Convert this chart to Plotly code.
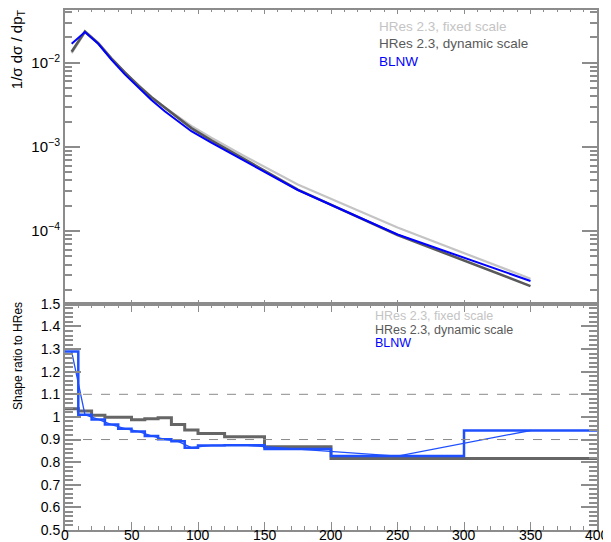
import plotly.graph_objects as go

# ---------------- data ----------------
pt_centers = [5, 15, 25, 35, 45, 55, 65, 75, 85, 95, 110, 135, 175, 250, 350]
bin_edges = [0, 10, 20, 30, 40, 50, 60, 70, 80, 90, 100, 120, 150, 200, 300, 400]

hres_fixed = [0.01303, 0.02291, 0.01698, 0.01122, 0.007674, 0.005433, 0.003936,
              0.002951, 0.002265, 0.001778, 0.001288, 0.000776, 0.000359,
              1.104e-4, 2.723e-5]
hres_dynamic = [0.01350, 0.02350, 0.01710, 0.01121, 0.007665, 0.005366, 0.003904,
                0.002939, 0.002190, 0.001675, 0.001194, 0.000708, 0.0003115,
                9.01e-5, 2.222e-5]
blnw = [0.01680, 0.02313, 0.01680, 0.01084, 0.007275, 0.005085, 0.003605,
        0.002659, 0.002020, 0.001537, 0.001126, 0.000679, 0.0003080,
        9.13e-5, 2.558e-5]

ratio_dynamic = [1.036, 1.026, 1.007, 0.999, 0.999, 0.988, 0.992, 0.996, 0.967,
                 0.942, 0.927, 0.912, 0.868, 0.816, 0.816]
ratio_blnw = [1.289, 1.010, 0.989, 0.966, 0.948, 0.936, 0.916, 0.901, 0.892,
              0.864, 0.874, 0.875, 0.858, 0.827, 0.940]

log_tickvals = [1e-4, 1e-3, 1e-2]
log_ticktext = ["10<sup>−4</sup>", "10<sup>−3</sup>", "10<sup>−2</sup>"]
x_tickvals = [0, 50, 100, 150, 200, 250, 300, 350, 400]
legend_labels = ["HRes 2.3, fixed scale", "HRes 2.3, dynamic scale", "BLNW"]

# ---------------- styles ----------------
C_FIXED = "#c4c4c4"
C_DYN = "#595959"
C_BLUE = "#0000ff"
C_BLUE_STEP = "#1f50ff"
AX = "#8c8c8c"
FONT = "Liberation Sans, Arial, Helvetica, sans-serif"

fig = go.Figure()

# top panel curves
fig.add_trace(go.Scatter(x=pt_centers, y=hres_fixed, mode="lines",
                         line=dict(color=C_FIXED, width=2.2), xaxis="x", yaxis="y"))
fig.add_trace(go.Scatter(x=pt_centers, y=hres_dynamic, mode="lines",
                         line=dict(color=C_DYN, width=2.6), xaxis="x", yaxis="y"))
fig.add_trace(go.Scatter(x=pt_centers, y=blnw, mode="lines",
                         line=dict(color=C_BLUE, width=2), xaxis="x", yaxis="y"))

# bottom panel: step histograms
fig.add_trace(go.Scatter(x=bin_edges, y=ratio_dynamic + [ratio_dynamic[-1]], mode="lines",
                         line=dict(color="#666666", width=3, shape="hv"),
                         xaxis="x2", yaxis="y2"))
fig.add_trace(go.Scatter(x=bin_edges, y=ratio_blnw + [ratio_blnw[-1]], mode="lines",
                         line=dict(color=C_BLUE_STEP, width=2.5, shape="hv"),
                         xaxis="x2", yaxis="y2"))
fig.add_trace(go.Scatter(x=pt_centers, y=ratio_blnw, mode="lines",
                         line=dict(color=C_BLUE_STEP, width=1.3),
                         xaxis="x2", yaxis="y2"))

for yv in (1.1, 0.9):
    fig.add_shape(type="line", xref="x2", yref="y2", x0=0, x1=400, y0=yv, y1=yv,
                  line=dict(color="#8a8a8a", width=1, dash="dash"))

minor_log = [k * 10 ** d for d in range(-5, -1) for k in range(2, 10)]

common_x = dict(range=[0, 400], showline=True, linecolor=AX, linewidth=2,
                mirror="ticks", ticks="inside", tickcolor=AX, tickwidth=1,
                showgrid=False, zeroline=False, tickvals=x_tickvals)

# the page adds an 8px body margin, so the figure is 8px smaller than the window
fig.update_layout(
    width=603, height=534,
    margin=dict(l=57, r=14, t=0, b=12),
    paper_bgcolor="white", plot_bgcolor="white",
    showlegend=False,
    font=dict(family=FONT, size=14, color="black"),
    xaxis=dict(**common_x, domain=[0, 1], anchor="y", showticklabels=False,
               ticklen=4, minor=dict(ticks="inside", ticklen=2, dtick=10,
                                     tickcolor=AX, showgrid=False)),
    yaxis=dict(type="log", domain=[0.4349, 1], anchor="x",
               range=[-4.864, -1.373], showline=True, linecolor=AX, linewidth=2,
               mirror="ticks", ticks="inside", ticklen=15, tickcolor=AX,
               tickwidth=1.5, tickvals=log_tickvals, ticktext=log_ticktext,
               showgrid=False, zeroline=False, automargin=False,
               tickfont=dict(size=15),
               minor=dict(ticks="inside", ticklen=7, tickvals=minor_log,
                          tickcolor=AX, showgrid=False)),
    xaxis2=dict(**common_x, domain=[0, 1], anchor="y2", showticklabels=False,
                ticklen=8, automargin=False,
                minor=dict(ticks="inside", ticklen=4, dtick=10,
                           tickcolor=AX, showgrid=False)),
    yaxis2=dict(domain=[0, 0.4349], anchor="x2", range=[0.5, 1.5],
                showline=True, linecolor=AX, linewidth=2, mirror="ticks",
                ticks="inside", ticklen=16, tickcolor=AX, tickwidth=1.5,
                dtick=0.1, tick0=0.5, showgrid=False, zeroline=False,
                automargin=False, tickfont=dict(size=14),
                minor=dict(ticks="inside", ticklen=8, dtick=0.02,
                           tickcolor=AX, showgrid=False)),
)

# x tick labels of the ratio panel (placed tight under the axis, as in the reference)
for xv in x_tickvals:
    fig.add_annotation(text=str(xv), xref="x2", yref="paper", x=xv, y=0,
                       yshift=-5, xanchor="center", yanchor="middle",
                       showarrow=False, font=dict(size=14, color="black"))

# axis titles
fig.add_annotation(text="1/σ dσ / dp<sub>T</sub>", xref="paper", yref="paper",
                   x=-0.088, y=0.925, textangle=-90, showarrow=False,
                   xanchor="center", yanchor="middle",
                   font=dict(size=15, color="black"))
fig.add_annotation(text="Shape ratio to HRes", xref="paper", yref="paper",
                   x=-0.088, y=0.335, textangle=-90, showarrow=False,
                   xanchor="center", yanchor="middle",
                   font=dict(size=12, color="black"))

# legends (text only, as in reference)
leg_colors = [C_FIXED, C_DYN, C_BLUE]
for lbl, col, yy in zip(legend_labels, leg_colors, [0.969, 0.935, 0.900]):
    fig.add_annotation(text=lbl, xref="paper", yref="paper", x=0.586, y=yy,
                       xanchor="left", yanchor="middle", showarrow=False,
                       font=dict(size=13.5, color=col))
for lbl, col, yy in zip(legend_labels, leg_colors, [0.411, 0.385, 0.359]):
    fig.add_annotation(text=lbl, xref="paper", yref="paper", x=0.579, y=yy,
                       xanchor="left", yanchor="middle", showarrow=False,
                       font=dict(size=12.5, color=col))

fig.write_html("out.html")
